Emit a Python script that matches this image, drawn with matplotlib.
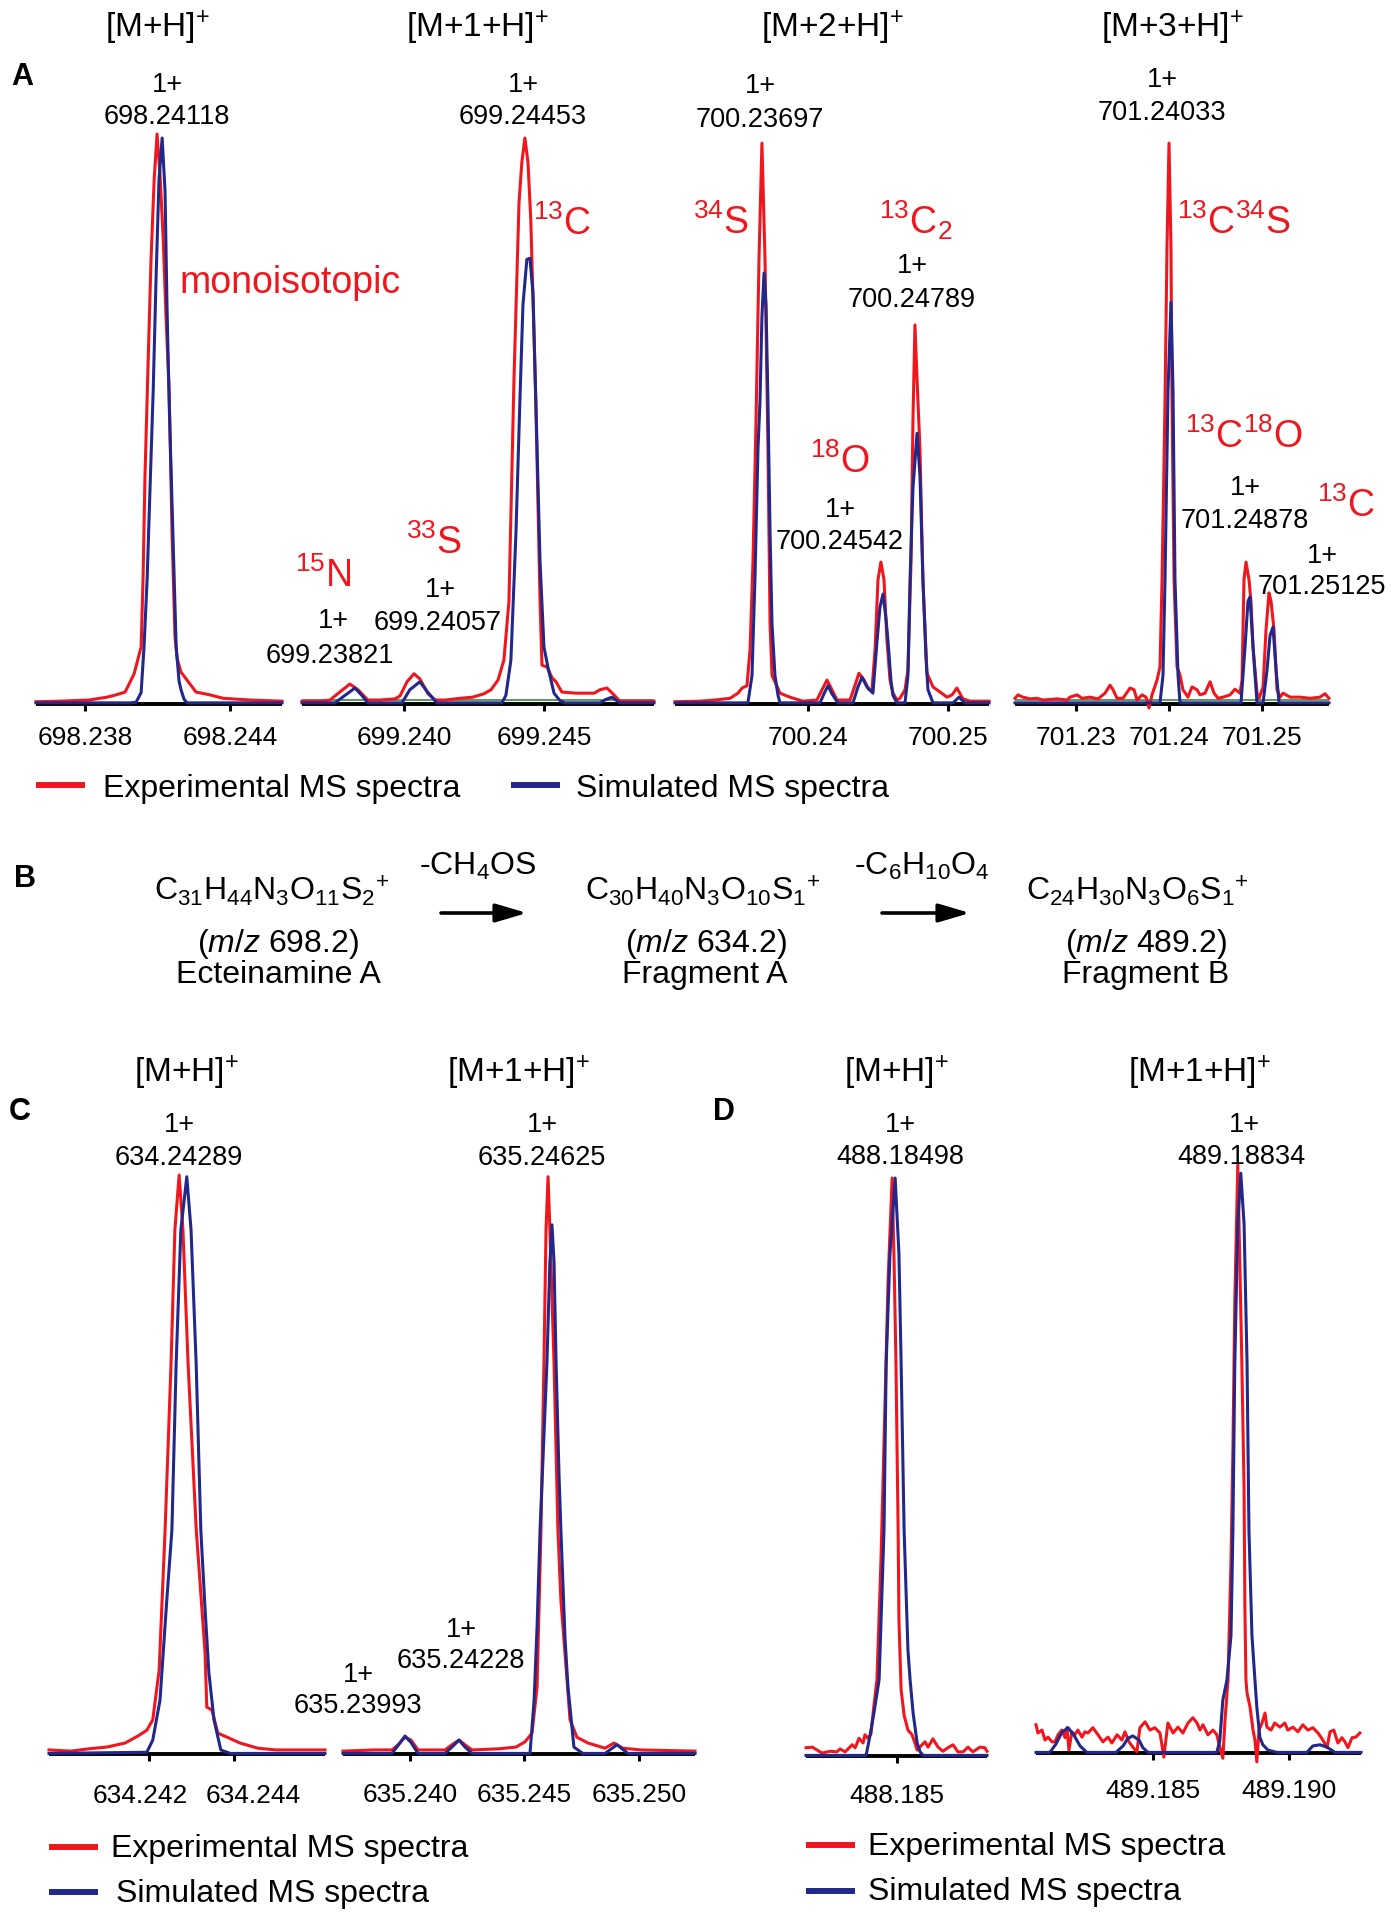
import matplotlib
matplotlib.use("Agg")
import matplotlib.pyplot as plt

plt.rcParams['font.family'] = ['Liberation Sans', 'DejaVu Sans']
plt.rcParams['mathtext.fontset'] = 'custom'
plt.rcParams['mathtext.rm'] = 'Liberation Sans'
plt.rcParams['mathtext.it'] = 'Liberation Sans:italic'
plt.rcParams['mathtext.bf'] = 'Liberation Sans:bold'
plt.rcParams['mathtext.sf'] = 'Liberation Sans'

# ---------------- DATA (m/z, relative intensity %) ----------------
# Panel A1  [M+H]+
A1_mz_exp = [698.23597, 698.23697, 698.23817, 698.23891, 698.23928, 698.23966, 698.24003, 698.24032,
             698.24040, 698.24048, 698.24061, 698.24073, 698.24086, 698.24098, 698.24110, 698.24123,
             698.24135, 698.24148, 698.24160, 698.24172, 698.24181, 698.24197, 698.24222, 698.24259,
             698.24317, 698.24371, 698.24483, 698.24615]
A1_int_exp = [0.4, 0.5, 0.7, 1.2, 1.6, 2.1, 5.3, 10, 22, 40, 60, 78, 92, 100, 93, 82, 68, 55, 30, 12, 8,
              5.6, 4.2, 2.1, 1.6, 1.0, 0.7, 0.5]
A1_mz_sim = [698.23597, 698.23986, 698.24011, 698.24032, 698.24044, 698.24057, 698.24069, 698.24082,
             698.24094, 698.24106, 698.24119, 698.24131, 698.24139, 698.24148, 698.24160, 698.24177,
             698.24189, 698.24197, 698.24210, 698.24222, 698.24615]
A1_int_sim = [0.2, 0.2, 0.3, 2, 10, 22, 38, 55, 75, 92, 99.3, 90, 70, 53, 35, 10, 4, 2.5, 0.8, 0.2, 0.2]

# Panel A2  [M+1+H]+
A2_mz_exp = [699.23636, 699.23700, 699.23736, 699.23771, 699.23807, 699.23836, 699.23871, 699.23914,
             699.23968, 699.23986, 699.24011, 699.24036, 699.24057, 699.24086, 699.24111, 699.24150,
             699.24200, 699.24246, 699.24286, 699.24311, 699.24336, 699.24357, 699.24375, 699.24393,
             699.24411, 699.24421, 699.24432, 699.24443, 699.24453, 699.24471, 699.24486, 699.24493,
             699.24511, 699.24529, 699.24543, 699.24564, 699.24614, 699.24679, 699.24700, 699.24725,
             699.24750, 699.24771, 699.24893]
A2_int_exp = [0.5, 0.5, 0.7, 2.1, 3.5, 2.5, 0.7, 0.7, 0.9, 1.4, 3.9, 5.3, 4.4, 1.8, 0.7, 0.7, 1.0, 1.2,
              1.8, 2.5, 4.2, 7.7, 18, 57, 88, 95, 99.3, 95, 85, 53, 18, 6.8, 6.5, 4.6, 3.9, 2.1, 1.9,
              1.9, 2.5, 2.8, 1.6, 0.5, 0.5]
A2_mz_sim = [699.23636, 699.23754, 699.23789, 699.23825, 699.23850, 699.23871, 699.23993, 699.24021,
             699.24057, 699.24086, 699.24118, 699.24350, 699.24364, 699.24382, 699.24400, 699.24414,
             699.24425, 699.24439, 699.24450, 699.24461, 699.24471, 699.24486, 699.24500, 699.24514,
             699.24536, 699.24557, 699.24575, 699.24700, 699.24721, 699.24743, 699.24771, 699.24893]
A2_int_sim = [0.2, 0.2, 1.5, 2.8, 1.5, 0.2, 0.2, 2.5, 3.9, 2.0, 0.2, 0.2, 1.5, 7.7, 30, 53, 70, 78,
              78.2, 72, 53, 25, 10, 6.5, 1.9, 0.6, 0.2, 0.2, 0.8, 1.2, 0.2, 0.2]

# Panel A3  [M+2+H]+
A3_mz_exp = [700.23050, 700.23229, 700.23336, 700.23443, 700.23500, 700.23529, 700.23564, 700.23586,
             700.23607, 700.23629, 700.23650, 700.23671, 700.23693, 700.23714, 700.23729, 700.23743,
             700.23764, 700.23800, 700.23871, 700.23964, 700.24064, 700.24100, 700.24136, 700.24171,
             700.24207, 700.24300, 700.24336, 700.24364, 700.24400, 700.24436, 700.24457, 700.24479,
             700.24500, 700.24521, 700.24543, 700.24564, 700.24586, 700.24607, 700.24636, 700.24657,
             700.24693, 700.24714, 700.24736, 700.24750, 700.24764, 700.24779, 700.24800, 700.24821,
             700.24850, 700.24893, 700.24943, 700.24993, 700.25029, 700.25064, 700.25107, 700.25157,
             700.25293]
A3_int_exp = [0.4, 0.5, 0.7, 1.0, 1.9, 2.8, 3.2, 9.5, 25, 50, 78, 98.4, 78, 45, 14, 5, 3.9, 1.9, 1.2,
              0.5, 0.7, 2.5, 4.2, 2.5, 0.7, 0.7, 3.3, 5.4, 4.2, 2.5, 2.5, 9.5, 21.8, 24.9, 21.8, 11.2,
              4.2, 1.9, 0.7, 1.0, 2.5, 6.0, 25, 50, 66.5, 57, 44.6, 21.8, 5.4, 3.0, 2.1, 1.2, 1.6, 2.8,
              0.9, 0.5, 0.5]
A3_mz_sim = [700.23050, 700.23571, 700.23600, 700.23621, 700.23643, 700.23657, 700.23671, 700.23686,
             700.23700, 700.23714, 700.23729, 700.23743, 700.23764, 700.23786, 700.23800, 700.24086,
             700.24114, 700.24143, 700.24171, 700.24214, 700.24321, 700.24357, 700.24386, 700.24421,
             700.24464, 700.24493, 700.24514, 700.24536, 700.24557, 700.24571, 700.24593, 700.24607,
             700.24636, 700.24693, 700.24714, 700.24729, 700.24750, 700.24779, 700.24800, 700.24821,
             700.24843, 700.24857, 700.24893, 700.25036, 700.25079, 700.25121, 700.25293]
A3_int_sim = [0.2, 0.2, 5, 21.8, 45, 53, 68, 75.6, 70, 53, 30, 14, 5, 1.5, 0.2, 0.2,
              1.8, 3.2, 1.8, 0.2, 0.2, 3.0, 4.7, 3.0, 1.9, 11, 17, 19.3, 15, 11.2, 4, 1.5, 0.2, 0.2,
              5, 21.8, 38, 47.5, 40, 21.8, 8, 2.5, 0.2, 0.2, 1.2, 0.2, 0.2]

# Panel A4  [M+3+H]+
A4_mz_exp = [701.22344, 701.22376, 701.22430, 701.22505, 701.22581, 701.22645, 701.22796, 701.22903,
             701.22935, 701.23011, 701.23065, 701.23151, 701.23237, 701.23312, 701.23366, 701.23398,
             701.23441, 701.23505, 701.23581, 701.23624, 701.23656, 701.23710, 701.23753, 701.23785,
             701.23817, 701.23871, 701.23903, 701.23925, 701.23957, 701.23978, 701.24000, 701.24021,
             701.24032, 701.24054, 701.24086, 701.24118, 701.24150, 701.24204, 701.24247, 701.24301,
             701.24333, 701.24387, 701.24441, 701.24484, 701.24527, 701.24580, 701.24656, 701.24709,
             701.24763, 701.24785, 701.24806, 701.24828, 701.24860, 701.24881, 701.24903, 701.24946,
             701.24968, 701.25011, 701.25043, 701.25075, 701.25097, 701.25129, 701.25161, 701.25194,
             701.25226, 701.25301, 701.25408, 701.25516, 701.25623, 701.25677, 701.25720]
A4_int_exp = [1.0, 1.6, 1.2, 0.9, 1.0, 0.7, 0.9, 0.7, 1.2, 1.6, 1.0, 1.2, 0.9, 1.9, 3.3, 2.5, 1.0, 1.0,
              2.8, 2.5, 0.7, 1.6, 1.2, -0.7, 1.6, 4.2, 6.5, 21.8, 53, 80, 98.4, 80, 53, 21.8, 6.5, 5.1,
              2.5, 1.2, 3.0, 2.5, 1.6, 1.9, 3.9, 1.9, 1.0, 1.2, 1.6, 2.6, 1.9, 4.2, 21.8, 24.9, 21.8,
              18, 10, 1.9, 1.0, 3.0, 13, 19.5, 18, 13, 2.5, 1.2, 1.9, 1.2, 1.2, 1.0, 1.2, 1.8, 1.0]
A4_mz_sim = [701.22344, 701.23903, 701.23935, 701.23957, 701.23989, 701.24021, 701.24043, 701.24064,
             701.24097, 701.24118, 701.24774, 701.24817, 701.24849, 701.24871, 701.24903, 701.24946,
             701.25011, 701.25054, 701.25086, 701.25118, 701.25151, 701.25183, 701.25720]
A4_int_sim = [0.2, 0.2, 5, 21.8, 55, 70.5, 55, 21.8, 5, 0.2, 0.2, 10, 18, 18.8, 10, 0.2, 0.2, 6, 12,
              13.5, 6, 0.2, 0.2]

# Panel C1  fragment A [M+H]+
C1_mz_exp = [634.23965, 634.24016, 634.24059, 634.24101, 634.24144, 634.24174, 634.24195, 634.24209,
             634.24224, 634.24238, 634.24252, 634.24261, 634.24271, 634.24280, 634.24292, 634.24311,
             634.24332, 634.24336, 634.24348, 634.24362, 634.24384, 634.24414, 634.24456, 634.24499,
             634.24614]
C1_int_exp = [0.7, 0.5, 0.9, 1.2, 1.9, 3.1, 4.1, 5.9, 14.5, 38.7, 67.5, 90.5, 100, 90.5, 67.5, 39,
              17.4, 8.1, 7.6, 3.6, 2.9, 1.9, 1.0, 0.7, 0.7]
C1_mz_sim = [634.23965, 634.24195, 634.24209, 634.24226, 634.24242, 634.24254, 634.24264, 634.24275,
             634.24289, 634.24299, 634.24311, 634.24322, 634.24332, 634.24341, 634.24353, 634.24369,
             634.24391, 634.24614]
C1_int_sim = [0.1, 0.3, 2.4, 9.3, 26.6, 38.7, 67.5, 90.5, 99.7, 90.5, 67.5, 38.7, 25, 14, 5.9, 0.7,
              0.1, 0.1]

# Panel C2  fragment A [M+1+H]+
C2_mz_exp = [635.23707, 635.23843, 635.23921, 635.23948, 635.23978, 635.24004, 635.24035, 635.24153,
             635.24183, 635.24214, 635.24240, 635.24271, 635.24389, 635.24463, 635.24502, 635.24533,
             635.24555, 635.24572, 635.24585, 635.24594, 635.24603, 635.24611, 635.24629, 635.24646,
             635.24659, 635.24677, 635.24699, 635.24729, 635.24777, 635.24852, 635.24891, 635.24930,
             635.25009, 635.25245]
C2_int_exp = [0.5, 0.7, 0.7, 1.6, 2.9, 2.4, 0.7, 0.7, 1.6, 2.4, 1.6, 0.7, 0.9, 1.2, 2.1, 3.6, 11.6,
              38.7, 67.5, 90.5, 99.7, 90.5, 67.5, 38.7, 26.6, 17.4, 5.9, 2.9, 1.9, 1.0, 1.9, 1.0, 0.7,
              0.5]
C2_mz_sim = [635.23707, 635.23921, 635.23948, 635.23978, 635.24004, 635.24035, 635.24153, 635.24183,
             635.24214, 635.24240, 635.24271, 635.24524, 635.24542, 635.24555, 635.24568, 635.24585,
             635.24598, 635.24611, 635.24620, 635.24629, 635.24638, 635.24651, 635.24659, 635.24677,
             635.24690, 635.24716, 635.24755, 635.24852, 635.24904, 635.24952, 635.25245]
C2_int_sim = [0.1, 0.1, 1.5, 3.1, 2.0, 0.1, 0.1, 1.2, 2.4, 1.2, 0.1, 0.1, 9.3, 22, 38.7, 55, 67.5,
              85, 91.4, 85, 67.5, 48, 38.7, 20, 11.6, 1.2, 0.1, 0.1, 1.6, 0.1, 0.1]

# Panel D1  fragment B [M+H]+
D1_mz_exp = [488.18165, 488.18188, 488.18206, 488.18224, 488.18254, 488.18279, 488.18290, 488.18309,
             488.18335, 488.18346, 488.18360, 488.18375, 488.18382, 488.18393, 488.18404, 488.18412,
             488.18426, 488.18441, 488.18456, 488.18467, 488.18482, 488.18489, 488.18496, 488.18504,
             488.18507, 488.18515, 488.18526, 488.18540, 488.18555, 488.18566, 488.18574, 488.18592,
             488.18603, 488.18614, 488.18632, 488.18651, 488.18669, 488.18687, 488.18706, 488.18724,
             488.18743, 488.18761, 488.18779, 488.18805, 488.18823, 488.18831]
D1_int_exp = [1.4, 1.5, 1.0, 0.5, 0.8, 0.7, 1.2, 0.7, 1.9, 1.4, 3.0, 2.2, 3.6, 3.0, 3.7, 7.3, 12.9,
              33.2, 60.2, 80.5, 97.8, 83.9, 66.5, 38.2, 23, 11.2, 6.9, 4.4, 3.6, 2.2, 1.0, 1.9, 2.4,
              1.5, 2.9, 1.5, 0.8, 1.4, 1.9, 0.7, 0.7, 1.5, 0.7, 1.5, 1.4, 0.8]
D1_mz_sim = [488.18165, 488.18386, 488.18390, 488.18401, 488.18415, 488.18434, 488.18452, 488.18460,
             488.18474, 488.18493, 488.18507, 488.18515, 488.18526, 488.18540, 488.18548, 488.18559,
             488.18574, 488.18585, 488.18596, 488.18831]
D1_int_sim = [0.1, 0.1, 1.0, 3.6, 7.3, 12.9, 38.2, 66.5, 85, 97.8, 85, 66.5, 38.2, 18, 12.9, 7.3, 2.2,
              0.7, 0.1, 0.1]

# Panel D2  fragment B [M+1+H]+
D2_mz_exp = [489.18070, 489.18077, 489.18092, 489.18103, 489.18114, 489.18129, 489.18140, 489.18151,
             489.18165, 489.18177, 489.18184, 489.18191, 489.18202, 489.18213, 489.18224, 489.18239,
             489.18250, 489.18261, 489.18279, 489.18298, 489.18316, 489.18335, 489.18349, 489.18368,
             489.18386, 489.18397, 489.18412, 489.18426, 489.18441, 489.18452, 489.18471, 489.18489,
             489.18507, 489.18526, 489.18540, 489.18555, 489.18574, 489.18592, 489.18610, 489.18629,
             489.18647, 489.18662, 489.18673, 489.18684, 489.18702, 489.18721, 489.18735, 489.18746,
             489.18757, 489.18765, 489.18776, 489.18787, 489.18794, 489.18801, 489.18812, 489.18820,
             489.18827, 489.18835, 489.18838, 489.18842, 489.18846, 489.18857, 489.18868, 489.18875,
             489.18882, 489.18890, 489.18901, 489.18912, 489.18919, 489.18934, 489.18948, 489.18967,
             489.18985, 489.18996, 489.19015, 489.19033, 489.19051, 489.19070, 489.19088, 489.19107,
             489.19125, 489.19140, 489.19151, 489.19165, 489.19180, 489.19195, 489.19206, 489.19217,
             489.19232, 489.19246, 489.19261]
D2_int_exp = [4.8, 3.4, 3.9, 2.2, 2.7, 1.9, 1.9, 3.1, 3.9, 2.6,
              4.3, 0.5, 3.6, 3.1, 3.9, 2.7, 3.6, 3.4, 4.3, 3.1,
              1.9, 2.7, 1.7, 3.1, 2.2, 3.6, 1.9, 1.0, 0.2, 4.3,
              5.3, 3.9, 4.3, 3.4, -0.7, 5.1, 3.4, 4.4, 3.4, 5.1,
              6.0, 5.1, 3.9, 4.8, 3.1, 3.9, 3.1, 1.0, -0.9, 5.6,
              12.4, 32.8, 51.5, 77, 100, 82, 66, 45, 25, 12.4,
              10.2, 7.8, 3.9, 2.2, -1.5, 3.9, 5.1, 6.8, 4.4, 3.9,
              5.1, 4.4, 5.1, 3.9, 4.4, 3.6, 4.8, 3.9, 4.3, 3.4,
              2.2, 0.9, 3.6, 3.9, 1.7, 2.6, 1.9, 0.9, 2.6, 2.7,
              3.4]
D2_mz_sim = [489.18070, 489.18121, 489.18143, 489.18165, 489.18188, 489.18210, 489.18232, 489.18257,
             489.18364, 489.18390, 489.18408, 489.18426, 489.18449, 489.18463, 489.18482, 489.18735,
             489.18746, 489.18757, 489.18772, 489.18787, 489.18794, 489.18801, 489.18812, 489.18823,
             489.18835, 489.18846, 489.18853, 489.18864, 489.18875, 489.18882, 489.18893, 489.18904,
             489.18923, 489.18956, 489.19066, 489.19088, 489.19114, 489.19140, 489.19169, 489.19265]
D2_int_sim = [0.1, 0.1, 1.5, 3.5, 4.3, 3.0, 1.2, 0.1, 0.1, 1.2, 2.5, 2.9, 2.2, 0.9, 0.1, 0.1, 2.2, 9,
              12.4, 20, 37.9, 66.3, 90, 98.6, 90, 66.3, 37.9, 20, 12.4, 7.8, 2.7, 1.4, 0.5, 0.1, 0.1,
              1.2, 1.4, 1.0, 0.1, 0.1]

# Axis ticks
A1_ticks = [698.238, 698.244]
A2_ticks = [699.240, 699.245]
A3_ticks = [700.24, 700.25]
A4_ticks = [701.23, 701.24, 701.25]
C1_ticks = [634.242, 634.244]
C2_ticks = [635.240, 635.245, 635.250]
D1_ticks = [488.185]
D2_ticks = [489.185, 489.190]
A1_ticklabels = ['698.238', '698.244']
A2_ticklabels = ['699.240', '699.245']
A3_ticklabels = ['700.24', '700.25']
A4_ticklabels = ['701.23', '701.24', '701.25']
C1_ticklabels = ['634.242', '634.244']
C2_ticklabels = ['635.240', '635.245', '635.250']
D1_ticklabels = ['488.185']
D2_ticklabels = ['489.185', '489.190']

# ---------------- FIGURE ----------------
W, H, DPI = 1396, 1920, 100
fig = plt.figure(figsize=(W / DPI, H / DPI), dpi=DPI)
RED = '#F0161E'
BLUE = '#21288A'
GREEN = '#2E7A36'


def spectrum_axes(x0, x1, ytop, ybase, xlim, ticks, labels, pad, fs=19):
    ax = fig.add_axes([x0 / W, 1 - ybase / H, (x1 - x0) / W, (ybase - ytop) / H])
    ax.set_xlim(*xlim)
    ax.set_ylim(0, 100)
    for s in ('left', 'top', 'right'):
        ax.spines[s].set_visible(False)
    ax.spines['bottom'].set_linewidth(2.8)
    ax.spines['bottom'].set_capstyle('butt')
    ax.set_yticks([])
    ax.set_xticks(ticks)
    ax.set_xticklabels(labels)
    ax.tick_params(axis='x', direction='out', length=5, width=2.2, pad=pad,
                   labelsize=fs, colors='black')
    ax.patch.set_alpha(0)
    return ax


def draw(ax, mz_e, in_e, mz_s, in_s, green=False):
    if green:
        ax.axhline(0.7, color=GREEN, lw=1.1, zorder=2)
    ax.plot(mz_e, in_e, color=RED, lw=2.2, zorder=3, clip_on=False, solid_joinstyle='round')
    ax.plot(mz_s, in_s, color=BLUE, lw=2.2, zorder=4, clip_on=False, solid_joinstyle='round')


axA1 = spectrum_axes(36, 282, 134, 704, (698.23597, 698.24615), A1_ticks, A1_ticklabels, 10.5)
draw(axA1, A1_mz_exp, A1_int_exp, A1_mz_sim, A1_int_sim)
axA2 = spectrum_axes(302, 654, 134, 704, (699.23636, 699.24893), A2_ticks, A2_ticklabels, 10.5)
draw(axA2, A2_mz_exp, A2_int_exp, A2_mz_sim, A2_int_sim, green=True)
axA3 = spectrum_axes(675, 989, 134, 704, (700.2305, 700.25293), A3_ticks, A3_ticklabels, 10.5)
draw(axA3, A3_mz_exp, A3_int_exp, A3_mz_sim, A3_int_sim)
axA4 = spectrum_axes(1015, 1329, 134, 704, (701.22344, 701.2572), A4_ticks, A4_ticklabels, 10.5)
draw(axA4, A4_mz_exp, A4_int_exp, A4_mz_sim, A4_int_sim, green=True)

axC1 = spectrum_axes(49, 325, 1175, 1754, (634.23965, 634.24614), C1_ticks, ['', ''], 16)
draw(axC1, C1_mz_exp, C1_int_exp, C1_mz_sim, C1_int_sim)
axC2 = spectrum_axes(343, 695, 1175, 1754, (635.23707, 635.25245), C2_ticks, C2_ticklabels, 16)
draw(axC2, C2_mz_exp, C2_int_exp, C2_mz_sim, C2_int_sim)

axD1 = spectrum_axes(806, 987, 1165, 1756, (488.18165, 488.18831), D1_ticks, D1_ticklabels, 15)
draw(axD1, D1_mz_exp, D1_int_exp, D1_mz_sim, D1_int_sim)
axD2 = spectrum_axes(1036, 1361, 1165, 1753, (489.1807, 489.19265), D2_ticks, D2_ticklabels, 13.5)
draw(axD2, D2_mz_exp, D2_int_exp, D2_mz_sim, D2_int_sim)

# ---------------- overlay for text / legends / scheme ----------------
ov = fig.add_axes([0, 0, 1, 1], zorder=10)
ov.set_xlim(0, W)
ov.set_ylim(H, 0)
ov.axis('off')
ov.patch.set_alpha(0)


def T(x, y, s, fs=19.5, color='black', ha='center', weight='normal'):
    ov.text(x, y, s, fontsize=fs, color=color, ha=ha, va='baseline', fontweight=weight)


def legend_item(x0, x1, y, color, tx, ty, label):
    ov.plot([x0, x1], [y, y], color=color, lw=4.3, solid_capstyle='butt')
    T(tx, ty, label, 23, ha='left')


# Panel A
T(11, 85, 'A', 22, ha='left', weight='bold')
T(157, 37, r'[M+H]$^{+}$', 24)
T(477, 37, r'[M+1+H]$^{+}$', 24)
T(832, 37, r'[M+2+H]$^{+}$', 24)
T(1172, 37, r'[M+3+H]$^{+}$', 24)

T(167, 92, '1+'); T(167, 124, '698.24118')
T(523, 92, '1+'); T(523, 124, '699.24453')
T(333, 628, '1+'); T(330, 663, '699.23821')
T(440, 597, '1+'); T(438, 630, '699.24057')
T(760, 93, '1+'); T(760, 127, '700.23697')
T(912, 273, '1+'); T(912, 307, '700.24789')
T(840, 517, '1+'); T(840, 549, '700.24542')
T(1162, 87, '1+'); T(1162, 120, '701.24033')
T(1245, 495, '1+'); T(1245, 528, '701.24878')
T(1322, 563, '1+'); T(1322, 594, '701.25125')

RFS = 27
T(179, 293, 'monoisotopic', RFS, RED, 'left')
T(533, 235, r'$^{13}$C', RFS, RED, 'left')
T(295, 587, r'$^{15}$N', RFS, RED, 'left')
T(406, 554, r'$^{33}$S', RFS, RED, 'left')
T(693, 234, r'$^{34}$S', RFS, RED, 'left')
T(879, 234, r'$^{13}$C$_{2}$', RFS, RED, 'left')
T(810, 473, r'$^{18}$O', RFS, RED, 'left')
T(1177, 234, r'$^{13}$C$^{34}$S', RFS, RED, 'left')
T(1185, 448, r'$^{13}$C$^{18}$O', RFS, RED, 'left')
T(1317, 517, r'$^{13}$C', RFS, RED, 'left')

legend_item(36, 85, 785, RED, 103, 797, 'Experimental MS spectra')
legend_item(511, 560, 785, BLUE, 576, 797, 'Simulated MS spectra')

# Panel B
BFS = 23
T(14, 887, 'B', 22, ha='left', weight='bold')
T(272, 900, r'C$_{31}$H$_{44}$N$_{3}$O$_{11}$S$_{2}$$^{+}$', BFS)
T(278, 952, r'($\mathit{m/z}$ 698.2)', BFS)
T(278, 983, 'Ecteinamine A', BFS)
T(478, 875, r'-CH$_{4}$OS', BFS)
T(703, 900, r'C$_{30}$H$_{40}$N$_{3}$O$_{10}$S$_{1}$$^{+}$', BFS)
T(706, 952, r'($\mathit{m/z}$ 634.2)', BFS)
T(705, 983, 'Fragment A', BFS)
T(922, 875, r'-C$_{6}$H$_{10}$O$_{4}$', BFS)
T(1137, 900, r'C$_{24}$H$_{30}$N$_{3}$O$_{6}$S$_{1}$$^{+}$', BFS)
T(1146, 952, r'($\mathit{m/z}$ 489.2)', BFS)
T(1146, 983, 'Fragment B', BFS)
for xa, xb in ((441, 527), (882, 970)):
    ov.annotate('', xy=(xb, 913), xytext=(xa, 913),
                arrowprops=dict(arrowstyle='-|>,head_length=0.95,head_width=0.28',
                                color='black', lw=2.6, shrinkA=0, shrinkB=0,
                                mutation_scale=20))

# Panel C
T(9, 1120, 'C', 22, ha='left', weight='bold')
T(186, 1082, r'[M+H]$^{+}$', 24)
T(518, 1082, r'[M+1+H]$^{+}$', 24)
T(179, 1132, '1+'); T(179, 1165, '634.24289')
T(542, 1132, '1+'); T(542, 1165, '635.24625')
T(358, 1682, '1+'); T(358, 1713, '635.23993')
T(461, 1637, '1+'); T(461, 1668, '635.24228')
T(140, 1803, C1_ticklabels[0], 19)
T(253, 1803, C1_ticklabels[1], 19)
legend_item(49, 98, 1847, RED, 111, 1857, 'Experimental MS spectra')
legend_item(49, 98, 1892, BLUE, 116, 1902, 'Simulated MS spectra')

# Panel D
T(713, 1120, 'D', 22, ha='left', weight='bold')
T(896, 1082, r'[M+H]$^{+}$', 24)
T(1199, 1082, r'[M+1+H]$^{+}$', 24)
T(900, 1132, '1+'); T(900, 1164, '488.18498')
T(1244, 1132, '1+'); T(1241, 1164, '489.18834')
legend_item(806, 855, 1845, RED, 868, 1855, 'Experimental MS spectra')
legend_item(806, 855, 1891, BLUE, 868, 1900, 'Simulated MS spectra')

fig.savefig('out.png', dpi=DPI)
